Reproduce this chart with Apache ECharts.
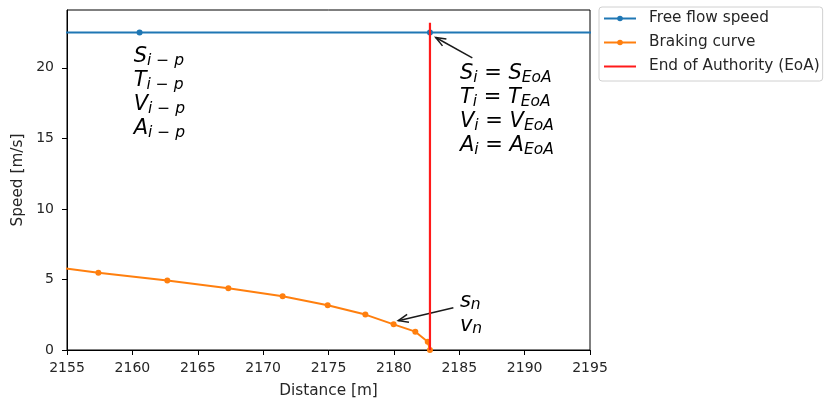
<!DOCTYPE html>
<html>
<head>
<meta charset="utf-8">
<script src="https://cdn.jsdelivr.net/npm/echarts@6/dist/echarts.min.js"></script>
<style>
  html, body { margin: 0; padding: 0; background: #fff; }
  #chart { width: 824px; height: 406px; }
</style>
</head>
<body>
<div id="chart"></div>
<script>
// Free flow speed (constant), sampled at the state points
const freeFlowDist  = [2138.3, 2160.55, 2182.76, 2205.0];
const freeFlowSpeed = [22.5, 22.5, 22.5, 22.5];

// Braking curve down to the End of Authority
const brakingDist  = [2152.1, 2157.4, 2162.67, 2167.34, 2171.49, 2174.94, 2177.82, 2179.98, 2181.64, 2182.59, 2182.76];
const brakingSpeed = [6.10, 5.48, 4.92, 4.37, 3.81, 3.17, 2.51, 1.82, 1.30, 0.59, 0.0];

// End of Authority marker line
const eoaDist = [2182.76, 2182.76];
const eoaSpeed = [0, 23.2];

// Axis ranges and ticks
const xRange = [2155, 2195];
const xTicks = [2155, 2160, 2165, 2170, 2175, 2180, 2185, 2190, 2195];
const yRange = [0, 24.1];
const yTicks = [0, 5, 10, 15, 20];

// Annotation text (mathtext-like rich strings) and their anchors
const prevStateLines = ['{m|S}{s|i}{su| − }{s|p}', '{m|T}{s|i}{su| − }{s|p}', '{m|V}{s|i}{su| − }{s|p}', '{m|A}{s|i}{su| − }{s|p}'];
const prevStateAnchor = [2160.1, 21.65];
const eoaStateLines = ['{m|S}{s|i}{u| = }{m|S}{s|EoA}', '{m|T}{s|i}{u| = }{m|T}{s|EoA}', '{m|V}{s|i}{u| = }{m|V}{s|EoA}', '{m|A}{s|i}{u| = }{m|A}{s|EoA}'];
const eoaStateAnchor = [2185.05, 20.45];
const lastStateLines = ['{m|s}{s|n}', '{m|v}{s|n}'];
const lastStateAnchor = [2185.05, 4.3];
// Arrows: [tail, tip]
const eoaArrow  = [[2186.0, 20.7], [2183.2, 22.15]];
const lastArrow = [[2184.55, 3.0], [2180.34, 2.08]];

const FONT = 'DejaVu Sans';
const TEXT = '#262626';

const zip = (a, b) => a.map((v, i) => [v, b[i]]);

const chart = echarts.init(document.getElementById('chart'), null, { renderer: 'canvas' });

const option = {
  animation: false,
  backgroundColor: '#fff',
  textStyle: { fontFamily: FONT },
  grid: {
    left: 67, right: 234, top: 10, bottom: 56,
    show: true, borderColor: '#000', borderWidth: 1, backgroundColor: 'transparent'
  },
  legend: {
    orient: 'vertical',
    left: 599, top: 7,
    itemWidth: 32, itemHeight: 7, itemGap: 9,
    padding: [4, 3, 7, 4],
    borderColor: '#d0d0d0', borderWidth: 1, borderRadius: 3,
    textStyle: { fontFamily: FONT, fontSize: 15.3, color: TEXT, padding: [0, 0, 0, 8] },
    data: [
      { name: 'Free flow speed' },
      { name: 'Braking curve' },
      { name: 'End of Authority (EoA)', itemStyle: { opacity: 0 } }
    ]
  },
  xAxis: {
    type: 'value', min: xRange[0], max: xRange[1], interval: 5,
    name: 'Distance [m]', nameLocation: 'middle', nameGap: 34,
    nameTextStyle: { fontFamily: FONT, fontSize: 15.3, color: TEXT },
    axisLine: { show: true, onZero: false, lineStyle: { color: '#000', width: 1 } },
    axisTick: { show: true, inside: false, length: 5, lineStyle: { color: '#000' }, customValues: xTicks },
    axisLabel: { fontFamily: FONT, fontSize: 14, color: TEXT, margin: 11, customValues: xTicks,
                 formatter: v => String(v) },
    splitLine: { show: false }
  },
  yAxis: {
    type: 'value', min: yRange[0], max: yRange[1], interval: 5,
    name: 'Speed [m/s]', nameLocation: 'middle', nameGap: 40,
    nameTextStyle: { fontFamily: FONT, fontSize: 15.3, color: TEXT },
    axisLine: { show: true, onZero: false, lineStyle: { color: '#000', width: 1 } },
    axisTick: { show: true, inside: false, length: 5, lineStyle: { color: '#000' }, customValues: yTicks },
    axisLabel: { fontFamily: FONT, fontSize: 14, color: TEXT, margin: 13, customValues: yTicks },
    splitLine: { show: false }
  },
  series: [
    {
      name: 'Free flow speed', type: 'line',
      data: zip(freeFlowDist, freeFlowSpeed),
      color: '#1f77b4',
      symbol: 'circle', symbolSize: 6, showAllSymbol: true,
      lineStyle: { width: 2 }, clip: true, z: 2
    },
    {
      name: 'Braking curve', type: 'line',
      data: zip(brakingDist, brakingSpeed),
      color: '#ff7f0e',
      symbol: 'circle', symbolSize: 6, showAllSymbol: true,
      lineStyle: { width: 2 }, clip: true, z: 3
    },
    {
      name: 'End of Authority (EoA)', type: 'line',
      data: zip(eoaDist, eoaSpeed),
      color: '#ff1a1a',
      symbol: 'none',
      lineStyle: { width: 2.2 }, clip: true, z: 4
    }
  ]
};

chart.setOption(option);

// Annotations are placed in data coordinates through the grid's scales
const rich = {
  m:  { fontFamily: FONT, fontStyle: 'italic', fontSize: 21, lineHeight: 24, fill: '#000' },
  u:  { fontFamily: FONT, fontSize: 21, lineHeight: 24, fill: '#000' },
  s:  { fontFamily: FONT, fontStyle: 'italic', fontSize: 15.5, lineHeight: 17, verticalAlign: 'bottom', fill: '#000' },
  su: { fontFamily: FONT, fontSize: 15.5, lineHeight: 17, verticalAlign: 'bottom', fill: '#000' }
};

function px(pt) { return chart.convertToPixel({ gridIndex: 0 }, pt); }

function textBlock(lines, anchor) {
  const p = px(anchor);
  return {
    type: 'text', x: p[0], y: p[1], z: 10,
    style: { text: lines.join('\n'), rich: rich, align: 'left', verticalAlign: 'top', fill: '#000' }
  };
}

function arrow(seg) {
  const a = px(seg[0]), b = px(seg[1]);
  const ang = Math.atan2(b[1] - a[1], b[0] - a[0]);
  const len = 10, half = 4;
  const bx = b[0] - len * Math.cos(ang), by = b[1] - len * Math.sin(ang);
  const nx = -Math.sin(ang), ny = Math.cos(ang);
  const style = { stroke: '#1a1a1a', lineWidth: 1.5, fill: null };
  return {
    type: 'group', z: 10,
    children: [
      { type: 'line', shape: { x1: a[0], y1: a[1], x2: b[0], y2: b[1] }, style: style },
      { type: 'polyline', shape: { points: [[bx + nx * half, by + ny * half], b, [bx - nx * half, by - ny * half]] }, style: style }
    ]
  };
}

chart.setOption({
  graphic: [
    textBlock(prevStateLines, prevStateAnchor),
    textBlock(eoaStateLines, eoaStateAnchor),
    textBlock(lastStateLines, lastStateAnchor),
    arrow(eoaArrow),
    arrow(lastArrow)
  ]
});
</script>
</body>
</html>
